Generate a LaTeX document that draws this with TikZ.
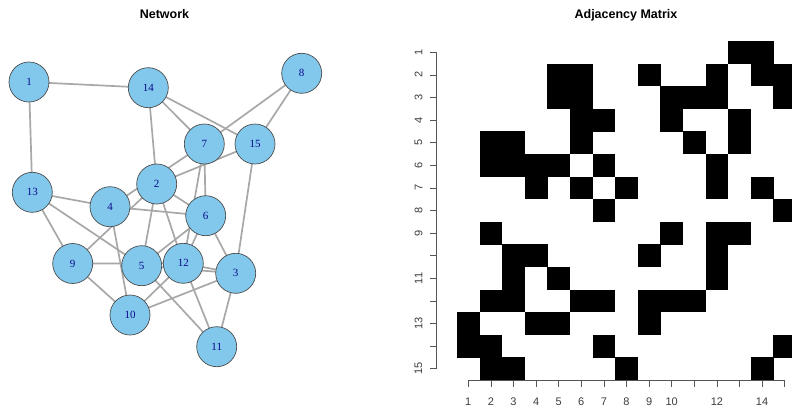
\documentclass[tikz,border=0pt]{standalone}
\usepackage{fontspec}
\setmainfont{Liberation Sans}
\newfontfamily\labelserif{Liberation Serif}
\definecolor{nodeblue}{RGB}{130,200,236}
\definecolor{labelblue}{RGB}{10,10,140}
\definecolor{edgegray}{RGB}{168,168,168}
\definecolor{axisgray}{RGB}{85,85,85}
\definecolor{ticktext}{RGB}{60,60,60}
\pgfdeclarelayer{bg}
\pgfsetlayers{bg,main}
\begin{document}
\begin{tikzpicture}[x=1pt,y=-1pt,
  vert/.style={circle, draw=black!70, line width=0.7pt, fill=nodeblue,
    minimum size=40pt, inner sep=0pt,
    font=\labelserif\fontsize{11}{11}\selectfont, text=labelblue},
  link/.style={draw=edgegray, line width=1.7pt},
  paneltitle/.style={anchor=base, font=\bfseries\fontsize{12.5}{14}\selectfont},
  axisline/.style={draw=axisgray, line width=0.8pt},
  ticklabel/.style={inner sep=0pt, text=ticktext, font=\fontsize{11}{11}\selectfont}]
\useasboundingbox (0,0) rectangle (792,410);
\clip (0,0) rectangle (792,410);

% panel titles
\node[paneltitle] (ttlnet) at (164.5,18) {Network};
\node[paneltitle] (ttladj) at (626,18) {Adjacency Matrix};

% ---------------- network ----------------
\node[vert] (v1)  at (29,82)    {1};
\node[vert] (v14) at (148.3,87.7) {14};
\node[vert] (v8)  at (301.7,73.3) {8};
\node[vert] (v7)  at (204.3,144)  {7};
\node[vert] (v15) at (255,144)    {15};
\node[vert] (v2)  at (156.7,184)  {2};
\node[vert] (v13) at (32.3,192.3) {13};
\node[vert] (v4)  at (110,206.7)  {4};
\node[vert] (v6)  at (205.7,215.7) {6};
\node[vert] (v9)  at (72.7,263.5) {9};
\node[vert] (v5)  at (141.7,265.7) {5};
\node[vert] (v12) at (183.3,263.3) {12};
\node[vert] (v3)  at (235.7,273.3) {3};
\node[vert] (v10) at (130,315)    {10};
\node[vert] (v11) at (216.7,346.7) {11};

\begin{pgfonlayer}{bg}
  \foreach \a/\b in {1/13,1/14,
      2/5,2/6,2/9,2/12,2/14,2/15,
      3/5,3/6,3/10,3/11,3/12,3/15,
      4/6,4/7,4/10,4/13,
      5/6,5/11,5/13,
      6/7,6/12,
      7/8,7/12,7/14,
      8/15,
      9/10,9/12,9/13,
      10/12,11/12,14/15}
    \draw[link] (v\a.center) -- (v\b.center);
\end{pgfonlayer}

% ---------------- adjacency matrix ----------------
\foreach \r/\cl in {1/{13,14},
    2/{5,6,9,12,14,15},
    3/{5,6,10,11,12,15},
    4/{6,7,10,13},
    5/{2,3,6,11,13},
    6/{2,3,4,5,7,12},
    7/{4,6,8,12,14},
    8/{7,15},
    9/{2,10,12,13},
    10/{3,4,9,12},
    11/{3,5,12},
    12/{2,3,6,7,9,10,11},
    13/{1,4,5,9},
    14/{1,2,7,15},
    15/{2,3,8,14}}
  \foreach \c in \cl
    \fill[black] ({457+22.6*(\c-1)},{41+22.6*(\r-1)}) rectangle ++(22.7,22.7);

% left axis (rows)
\coordinate (ytop) at (436,52.3);
\coordinate (ybot) at (436,368.7);
\draw[axisline] (ytop) -- (ybot);
\foreach \r in {1,...,15}
  \draw[axisline] (436,{52.3+22.6*(\r-1)}) -- (430,{52.3+22.6*(\r-1)});
\foreach \r in {1,2,3,4,5,6,7,8,9,11,13,15}
  \node[ticklabel, rotate=90] (ry\r) at (418.5,{52.3+22.6*(\r-1)}) {\r};

% bottom axis (columns)
\coordinate (xleft) at (468.3,380.5);
\coordinate (xright) at (784.7,380.5);
\draw[axisline] (xleft) -- (xright);
\foreach \c in {1,...,15}
  \draw[axisline] ({468.3+22.6*(\c-1)},380.5) -- ({468.3+22.6*(\c-1)},386.5);
\foreach \c in {1,2,3,4,5,6,7,8,9,10,12,14}
  \node[ticklabel, anchor=base] (cx\c) at ({468.3+22.6*(\c-1)},405) {\c};
\end{tikzpicture}
\end{document}
